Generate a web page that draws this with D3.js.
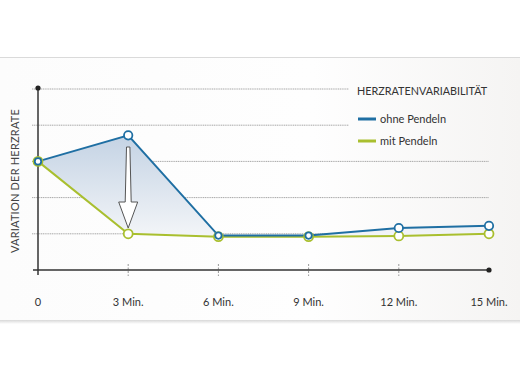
<!DOCTYPE html>
<html><head><meta charset="utf-8">
<script src="https://cdn.jsdelivr.net/npm/d3@7"></script>
<style>
html,body{margin:0;padding:0;background:#fff;}
svg{display:block;font-family:Lato, "Open Sans", sans-serif;}
</style></head>
<body>
<svg id="c" width="520" height="380"></svg>
<script>
const minutes = [0, 3, 6, 9, 12, 15];
const tickLabels = ["0", "3 Min.", "6 Min.", "9 Min.", "12 Min.", "15 Min."];
const ohnePendeln = [3.0, 3.72, 0.95, 0.95, 1.16, 1.22];
const mitPendeln = [3.0, 1.0, 0.92, 0.92, 0.94, 1.0];
const seriesNames = ["ohne Pendeln", "mit Pendeln"];
const legendTitle = "HERZRATENVARIABILITÄT";
const yTitle = "VARIATION DER HERZRATE";
const gridValues = [1, 2, 3, 4, 5];

const blue = "#1f6fa3", green = "#a9bf2f";
const svg = d3.select("#c");
const defs = svg.append("defs");

// card background
const bg = defs.append("linearGradient").attr("id","bg").attr("x1","0").attr("x2","1").attr("y1","0").attr("y2","0");
bg.append("stop").attr("offset","0").attr("stop-color","#fcfcfc");
bg.append("stop").attr("offset","0.6").attr("stop-color","#fefefe");
bg.append("stop").attr("offset","1").attr("stop-color","#f5f4f3");
const sh = defs.append("linearGradient").attr("id","sh").attr("x1","0").attr("x2","0").attr("y1","0").attr("y2","1");
sh.append("stop").attr("offset","0").attr("stop-color","#d8d8d8");
sh.append("stop").attr("offset","1").attr("stop-color","#ffffff");
svg.append("rect").attr("x",0).attr("y",320).attr("width",520).attr("height",4).attr("fill","url(#sh)");
svg.append("rect").attr("x",0).attr("y",57).attr("width",520).attr("height",263).attr("fill","url(#bg)");
svg.append("line").attr("x1",0).attr("x2",520).attr("y1",57.5).attr("y2",57.5).attr("stroke","#dadada").attr("stroke-width",1);

const x = d3.scaleLinear().domain([0,15]).range([38,489]);
const y = d3.scaleLinear().domain([0,5]).range([270,89]);

// gridlines
svg.append("g").selectAll("line").data(gridValues).join("line")
  .attr("x1",32).attr("x2",d => d >= 4 ? 349 : 489)
  .attr("y1",d=>y(d)).attr("y2",d=>y(d))
  .attr("stroke","#a8a8a8").attr("stroke-width",1).attr("stroke-dasharray","1.2,0.6");

// fill area between series
const fillG = defs.append("linearGradient").attr("id","fillG").attr("x1","0").attr("x2","0").attr("y1","0").attr("y2","1");
fillG.append("stop").attr("offset","0").attr("stop-color","#c4d3e4");
fillG.append("stop").attr("offset","1").attr("stop-color","#f3f5f8");
const rows = minutes.map((m,i)=>({m, a: ohnePendeln[i], b: mitPendeln[i]}));
svg.append("path").datum(rows)
  .attr("d", d3.area().x(d=>x(d.m)).y0(d=>y(d.b)).y1(d=>y(d.a)))
  .attr("fill","url(#fillG)");

// x axis ticks (dashed)
svg.append("g").selectAll("line").data(minutes.slice(1,5)).join("line")
  .attr("x1",d=>x(d)).attr("x2",d=>x(d)).attr("y1",264).attr("y2",276)
  .attr("stroke","#999").attr("stroke-width",1).attr("stroke-dasharray","2,1.5");

// axes
svg.append("line").attr("x1",x(0)).attr("x2",x(0)).attr("y1",y(5)).attr("y2",275).attr("stroke","#333").attr("stroke-width",1.5);
svg.append("line").attr("x1",33).attr("x2",x(15)).attr("y1",y(0)).attr("y2",y(0)).attr("stroke","#333").attr("stroke-width",1.5);
svg.append("circle").attr("cx",x(0)).attr("cy",y(5)-1).attr("r",2.6).attr("fill","#222");
svg.append("circle").attr("cx",x(15)).attr("cy",y(0)).attr("r",2.6).attr("fill","#222");

// x labels
svg.append("g").selectAll("text").data(minutes).join("text")
  .attr("x",d=>x(d)).attr("y",306).attr("text-anchor","middle")
  .attr("font-size",11).attr("fill","#333").text((d,i)=>tickLabels[i]);

// y title
svg.append("text").attr("transform","translate(19,181) rotate(-90)")
  .attr("text-anchor","middle").attr("font-size",11).attr("fill","#444")
  .attr("letter-spacing",0.2).text(yTitle);

// lines
const line = d3.line().x(d=>x(d[0])).y(d=>y(d[1]));
const mitPts = minutes.map((m,i)=>[m, mitPendeln[i]]);
const ohnePts = minutes.map((m,i)=>[m, ohnePendeln[i]]);
svg.append("path").datum(mitPts).attr("d",line).attr("fill","none").attr("stroke",green).attr("stroke-width",2);
svg.append("path").datum(ohnePts).attr("d",line).attr("fill","none").attr("stroke",blue).attr("stroke-width",2);

// arrow
const ax = x(3), aTop = 147, aHeadStart = 202, aTip = 228;
const ap = d3.path();
ap.moveTo(ax-1.7, aTop); ap.lineTo(ax+1.7, aTop);
ap.lineTo(ax+3, aHeadStart); ap.lineTo(ax+9.5, aHeadStart);
ap.lineTo(ax, aTip); ap.lineTo(ax-9.5, aHeadStart);
ap.lineTo(ax-3, aHeadStart); ap.closePath();
svg.append("path").attr("d",ap.toString()).attr("fill","#fff").attr("stroke","#555").attr("stroke-width",1);

// markers
svg.append("g").selectAll("circle").data(mitPts).join("circle")
  .attr("cx",d=>x(d[0])).attr("cy",d=>y(d[1])).attr("r",4.5)
  .attr("fill","#fff").attr("stroke",green).attr("stroke-width",1.8);
svg.append("g").selectAll("circle").data(ohnePts).join("circle")
  .attr("cx",d=>x(d[0])).attr("cy",d=>y(d[1])).attr("r",(d,i)=> (Math.abs(ohnePendeln[i]-mitPendeln[i])<0.1 ? 3.2 : 4.2))
  .attr("fill","#fff").attr("stroke",blue).attr("stroke-width",1.8);

// legend
svg.append("text").attr("x",357).attr("y",95).attr("font-size",10.8).attr("fill","#333").text(legendTitle);
const legColors = [blue, green];
const lg = svg.append("g").selectAll("g").data(seriesNames).join("g")
  .attr("transform",(d,i)=>`translate(358,${119 + i*22})`);
lg.append("line").attr("x1",0).attr("x2",18).attr("y1",0).attr("y2",0)
  .attr("stroke",(d,i)=>legColors[i]).attr("stroke-width",3);
lg.append("text").attr("x",22).attr("y",4).attr("font-size",11).attr("fill","#333").text(d=>d);
</script>
</body></html>
